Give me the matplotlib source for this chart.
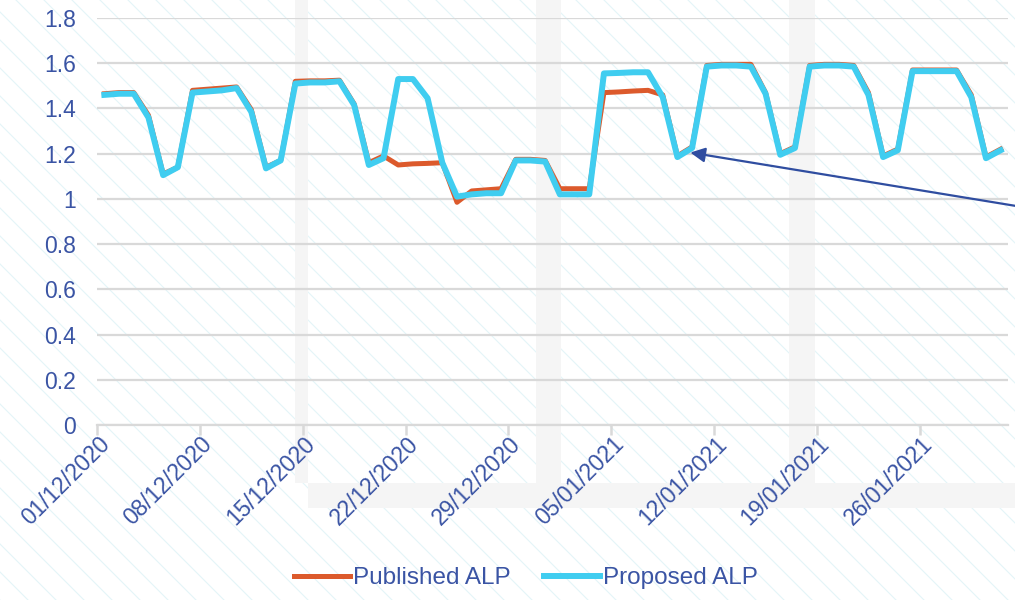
"""
Published vs proposed ALP, daily values Dec 2020 - Jan 2021.
"""

import pandas as pd
import numpy as np
import matplotlib
matplotlib.use("Agg")
import matplotlib.pyplot as plt
import matplotlib.dates as mdates
import matplotlib.transforms as mtransforms
from matplotlib.patches import Rectangle
from matplotlib.lines import Line2D

plt.rcParams.update({
    "font.family": ["Liberation Sans", "DejaVu Sans"],
})

# --- DATA ---
start_date = "2020-12-01"
n_days = 62

published_alp = [
    1.465, 1.47, 1.47, 1.37, 1.11, 1.14, 1.48, 1.485, 1.49, 1.495,
    1.395, 1.14, 1.17, 1.52, 1.522, 1.522, 1.525, 1.42, 1.16, 1.19,
    1.15, 1.155, 1.157, 1.16, 0.985, 1.035, 1.04, 1.045, 1.175, 1.175,
    1.17, 1.045, 1.045, 1.045, 1.47, 1.473, 1.477, 1.48, 1.46, 1.19,
    1.23, 1.59, 1.595, 1.595, 1.595, 1.47, 1.2, 1.23, 1.59, 1.595,
    1.595, 1.59, 1.47, 1.19, 1.22, 1.57, 1.57, 1.57, 1.57, 1.46,
    1.185, 1.22,
]
proposed_alp = [
    1.46, 1.465, 1.465, 1.36, 1.105, 1.14, 1.47, 1.475, 1.48, 1.49,
    1.385, 1.135, 1.17, 1.51, 1.515, 1.515, 1.52, 1.415, 1.15, 1.18,
    1.53, 1.53, 1.445, 1.16, 1.01, 1.02, 1.025, 1.025, 1.17, 1.17,
    1.165, 1.02, 1.02, 1.02, 1.555, 1.557, 1.56, 1.56, 1.45, 1.185,
    1.225, 1.585, 1.59, 1.59, 1.585, 1.465, 1.195, 1.225, 1.585, 1.59,
    1.59, 1.585, 1.46, 1.185, 1.215, 1.565, 1.565, 1.565, 1.565, 1.45,
    1.18, 1.215,
]
y_ticks = [0, 0.2, 0.4, 0.6, 0.8, 1, 1.2, 1.4, 1.6, 1.8]
y_tick_labels = ["0", "0.2", "0.4", "0.6", "0.8", "1", "1.2", "1.4", "1.6", "1.8"]

# arrow annotation (points at 11/01/2021)
arrow_tip = ("2021-01-10 09:00", 1.205)
arrow_tail = ("2021-02-02 20:00", 0.955)

dates = pd.date_range(start_date, periods=n_days, freq="D") + pd.Timedelta(hours=12)

text_blue = "#3a54a4"
orange = "#dc5a2c"
cyan = "#40cdf0"
grid_grey = "#d9d9d9"

W, H = 1015, 600
fig = plt.figure(figsize=(W / 100, H / 100), dpi=100)

# faint diagonal background lines + very light grey bands (screenshot backdrop)
for x0 in range(-H, W + 30, 28):
    fig.add_artist(Line2D([x0 / W, (x0 + H) / W], [1, 0], transform=fig.transFigure,
                          color="#e3f5f8", lw=0.8, zorder=-10))
band = "#f5f5f5"
for (x0, y0, w, h) in [(295, 0, 13, 483), (536, 0, 25, 483),
                       (789, 0, 26, 483), (308, 483, 707, 25)]:
    fig.add_artist(Rectangle((x0 / W, 1 - (y0 + h) / H), w / W, h / H,
                             transform=fig.transFigure, facecolor=band,
                             edgecolor="none", zorder=-9))

ax = fig.add_axes([97 / W, 1 - 425 / H, (1008 - 97) / W, (425 - 18) / H])
ax.set_facecolor("none")
ax.set_zorder(1)

ax.plot(dates, published_alp, color=orange, linewidth=3.6,
        solid_joinstyle="round", label="Published ALP", zorder=3)
ax.plot(dates, proposed_alp, color=cyan, linewidth=4.3,
        solid_joinstyle="round", label="Proposed ALP", zorder=4)

# --- AXES ---
ax.set_xlim(pd.Timestamp("2020-12-01"), pd.Timestamp("2021-02-01"))
ax.set_ylim(0, 1.8)
ax.set_yticks(y_ticks)
ax.set_yticklabels(y_tick_labels)
ax.tick_params(axis="y", length=0, pad=15, labelsize=16.5, labelcolor=text_blue)

week_ticks = pd.date_range("2020-12-01", "2021-01-26", freq="7D")
ax.set_xticks(week_ticks)
ax.xaxis.set_major_formatter(mdates.DateFormatter("%d/%m/%Y"))
ax.tick_params(axis="x", length=7, width=1.8, color=grid_grey, pad=4,
               labelsize=16.5, labelcolor=text_blue)
offset = mtransforms.ScaledTranslation(9 / 100, 0, fig.dpi_scale_trans)
for lab in ax.get_xticklabels():
    lab.set_rotation(45)
    lab.set_ha("right")
    lab.set_va("center")
    lab.set_rotation_mode("anchor")
    lab.set_transform(lab.get_transform() + offset)

ax.grid(True, axis="y", color=grid_grey, linewidth=1.6)
ax.set_axisbelow(True)
for side in ["top", "right", "left"]:
    ax.spines[side].set_visible(False)
ax.spines["bottom"].set_color(grid_grey)
ax.spines["bottom"].set_linewidth(1.6)

ax.annotate("", xy=(pd.Timestamp(arrow_tip[0]), arrow_tip[1]),
            xytext=(pd.Timestamp(arrow_tail[0]), arrow_tail[1]),
            arrowprops=dict(arrowstyle="-|>", color="#2f4da0", lw=1.6,
                            mutation_scale=22, shrinkA=0, shrinkB=0),
            annotation_clip=False, zorder=6)

fig.legend(loc="center", bbox_to_anchor=(526 / W, 1 - 578 / H),
           ncol=2, frameon=False, fontsize=17.5, labelcolor=text_blue,
           handlelength=2.3, handletextpad=0.12, columnspacing=1.4)

fig.savefig("out.png", dpi=100)
